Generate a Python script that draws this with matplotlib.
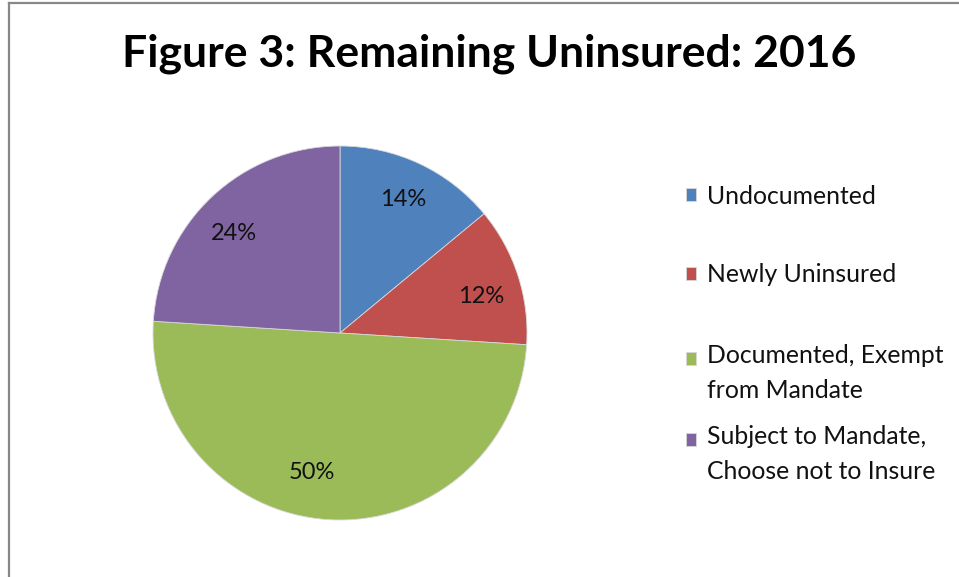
import matplotlib
matplotlib.use('Agg')
import matplotlib.pyplot as plt
from matplotlib.lines import Line2D
from matplotlib.patches import Rectangle
from matplotlib.legend_handler import HandlerPatch

plt.rcParams['font.family'] = ['Lato', 'DejaVu Sans']

labels = ['Undocumented', 'Newly Uninsured', 'Documented, Exempt\nfrom Mandate',
          'Subject to Mandate,\nChoose not to Insure']
shares = [14, 12, 50, 24]
colors = ['#4F81BD', '#C0504D', '#9BBB59', '#8064A2']

W, H = 959, 577
fig = plt.figure(figsize=(W / 100, H / 100), dpi=100)

# pie centre (340, 333) px, radius 187 px
cx, cy, r = 340, 333, 187
ax = fig.add_axes([(cx - r) / W, (H - cy - r) / H, 2 * r / W, 2 * r / H])
wedges, _, autotexts = ax.pie(shares, colors=colors, startangle=90, counterclock=False,
                              autopct='%d%%', pctdistance=0.79,
                              wedgeprops=dict(linewidth=0.6, edgecolor='#d8d8d8'),
                              textprops=dict(fontsize=17, color='#111111'))
ax.set_xlim(-1, 1)
ax.set_ylim(-1, 1)
ax.set_aspect('equal')

# Excel places data labels a bit differently; nudge them (pixels)
nudges = [(0, 0), (1, -9), (-19, 8), (-5, -8)]
for t, (dx, dy) in zip(autotexts, nudges):
    x, y = t.get_position()
    t.set_position((x + dx / r, y + dy / r))

fig.text(489 / W, 1 - 54 / H, 'Figure 3: Remaining Uninsured: 2016', ha='center', va='center',
         fontsize=32, fontweight='bold', color='black')


def square_at_first_line(nlines):
    # keep the colour square level with the first line of a wrapped label
    shift = (nlines - 1) * 31 / 2 * 0.72

    def make(legend, orig_handle, xdescent, ydescent, width, height, fontsize):
        return Rectangle((-xdescent, -ydescent + shift), width, height)
    return make


# legend entries, placed one by one like Excel spreads them
entry_y = [196, 275, 373, 454]
for w, lab, yy in zip(wedges, labels, entry_y):
    n = lab.count('\n') + 1
    leg = fig.legend([w], [lab], loc='center left', bbox_to_anchor=(686 / W, 1 - yy / H),
                     frameon=False, fontsize=17.8, handlelength=0.42, handleheight=0.42,
                     handletextpad=0.42, borderpad=0, borderaxespad=0,
                     handler_map={w: HandlerPatch(patch_func=square_at_first_line(n))})
    for t in leg.get_texts():
        t.set_linespacing(1.6)
        t.set_color('#111111')

# chart area border (only top and left visible)
fig.add_artist(Line2D([8.5 / W, 1], [1 - 3 / H, 1 - 3 / H], color='#888888', lw=1.6))
fig.add_artist(Line2D([8.5 / W, 8.5 / W], [0, 1 - 3 / H], color='#888888', lw=1.6))

fig.savefig('out.png', dpi=100)
